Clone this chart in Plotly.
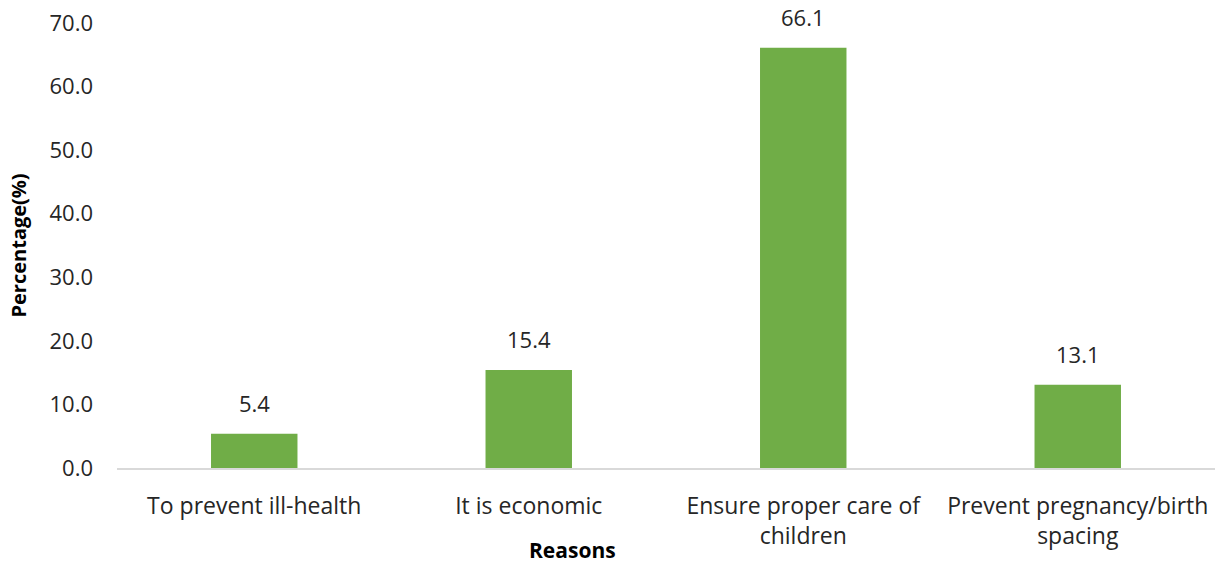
import plotly.graph_objects as go

categories = ["To prevent ill-health", "It is economic", "Ensure proper care of<br>children", "Prevent pregnancy/birth<br>spacing"]
values = [5.4, 15.4, 66.1, 13.1]
y_ticks = [0, 10, 20, 30, 40, 50, 60, 70]

FONT = "Open Sans"
TXT = "#262626"
fig = go.Figure(go.Bar(
    x=categories, y=values,
    marker=dict(color="#70AD47", line=dict(width=0)),
    width=0.315,
    hoverinfo="x+y",
))
for c, v in zip(categories, values):
    fig.add_annotation(x=c, y=v, text=f"{v:.1f}", showarrow=False,
                       xanchor="center", yanchor="bottom", yshift=14,
                       font=dict(size=22, family=FONT, color=TXT))
fig.update_layout(
    width=1220, height=565,
    margin=dict(l=117, r=5, t=23, b=97),
    paper_bgcolor="white", plot_bgcolor="white",
    font=dict(family=FONT, size=23, color=TXT),
    showlegend=False,
    bargap=0.685,
    yaxis=dict(range=[0, 70], tickvals=y_ticks, ticktext=[f"{v:.1f}" for v in y_ticks],
               showgrid=False, zeroline=False, showline=False, ticks="", ticklen=0,
               ticklabelstandoff=23,
               tickfont=dict(size=22, family=FONT, color=TXT)),
    xaxis=dict(showline=True, linecolor="#d9d9d9", linewidth=2, ticks="", showgrid=False,
               ticklabelstandoff=16,
               tickfont=dict(size=23, family=FONT, color=TXT)),
    annotations=list(fig.layout.annotations) + [
        dict(text="<b>Percentage(%)</b>", textangle=-90, xref="paper", yref="paper",
             x=(18 - 117) / 1098, y=0.5, xanchor="center", yanchor="middle", showarrow=False,
             font=dict(size=20, family=FONT, color="#000000")),
        dict(text="<b>Reasons</b>", xref="paper", yref="paper",
             x=(572 - 117) / 1098, y=(468 - 550) / 445, xanchor="center", yanchor="middle", showarrow=False,
             font=dict(size=21, family=FONT, color="#000000")),
    ],
)
fig.write_html("out.html")
